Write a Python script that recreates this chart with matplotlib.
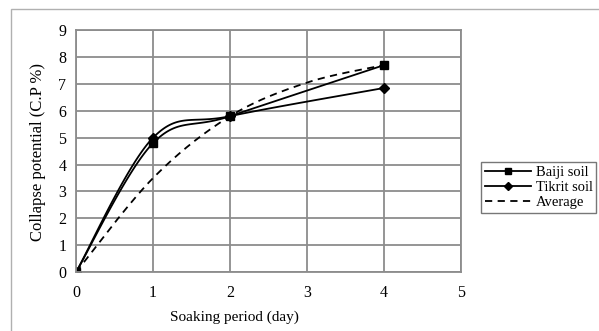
import numpy as np
import matplotlib.pyplot as plt
from matplotlib.patches import Rectangle

plt.rcParams['font.family'] = ['Liberation Serif', 'DejaVu Serif']

# data
days = [0, 1, 2, 4]
baiji = [0, 4.8, 5.8, 7.7]
tikrit = [0, 5.0, 5.8, 6.85]
avg_days = [0, 1, 2, 3, 4]
average = [0, 3.5, 5.8, 7.05, 7.7]

x_ticks = [0, 1, 2, 3, 4, 5]
y_ticks = [0, 1, 2, 3, 4, 5, 6, 7, 8, 9]


def smooth(xs, ys, n=40):
    # spreadsheet style smoothing: bezier segments with catmull-rom handles
    p = np.column_stack([xs, ys]).astype(float)
    out = []
    for i in range(len(p) - 1):
        p0 = p[i - 1] if i > 0 else p[i]
        p1 = p[i]
        p2 = p[i + 1]
        p3 = p[i + 2] if i + 2 < len(p) else p[i + 1]
        c1 = p1 + (p2 - p0) / 6
        c2 = p2 - (p3 - p1) / 6
        t = np.linspace(0, 1, n)[:, None]
        seg = ((1 - t) ** 3) * p1 + 3 * ((1 - t) ** 2) * t * c1 + 3 * (1 - t) * t ** 2 * c2 + t ** 3 * p2
        out.append(seg if i == 0 else seg[1:])
    out = np.vstack(out)
    return out[:, 0], out[:, 1]


fig = plt.figure(figsize=(5.99, 3.31), dpi=100)
ax = fig.add_axes([0.127, 0.178, 0.643, 0.731])

# outer chart frame (cut off on the right and bottom)
fig.patches.append(Rectangle((11 / 599, -0.1), 1.0, (331 - 9) / 331 + 0.1,
                             transform=fig.transFigure, fill=False,
                             edgecolor='#b0b0b0', linewidth=1.0))

grid_col = '#8c8c8c'
ax.set_xlim(0, 5)
ax.set_ylim(0, 9)
ax.set_xticks(x_ticks)
ax.set_yticks(y_ticks)
ax.grid(True, color=grid_col, linewidth=1.3)
ax.set_axisbelow(True)
for s in ax.spines.values():
    s.set_color(grid_col)
    s.set_linewidth(1.3)
ax.tick_params(length=0, labelsize=11.5)
ax.tick_params(axis='x', pad=9)
ax.tick_params(axis='y', pad=7)

bx, by = smooth(days, baiji)
ax.plot(bx, by, color='black', linewidth=1.3)
ax.plot(days, baiji, linestyle='none', marker='s', markersize=6, color='black')
tx, ty = smooth(days, tikrit)
ax.plot(tx, ty, color='black', linewidth=1.3)
ax.plot(days, tikrit, linestyle='none', marker='D', markersize=5.5, color='black')
axx, ayy = smooth(avg_days, average)
ax.plot(axx, ayy, color='black', linewidth=1.3, linestyle=(0, (4, 3)))

# legend proxies
ax.plot([], [], color='black', linewidth=1.3, marker='s', markersize=5, label='Baiji soil')
ax.plot([], [], color='black', linewidth=1.3, marker='D', markersize=4.5, label='Tikrit soil')
ax.plot([], [], color='black', linewidth=1.3, linestyle=(0, (4, 3)), label='Average')
leg = ax.legend(loc='center left', bbox_to_anchor=(481 / 599, 1 - 187.5 / 331),
                bbox_transform=fig.transFigure, fontsize=10.5, frameon=True,
                fancybox=False, edgecolor='#555555', borderpad=0.25,
                labelspacing=0.12, handlelength=3.2, handletextpad=0.3,
                borderaxespad=0)
leg.get_frame().set_linewidth(1.0)

fig.text(234 / 599, 1 - 317 / 331, 'Soaking period (day)', fontsize=11,
         ha='center', va='center')
fig.text(38 / 599, 1 - 152 / 331, 'Collapse potential (C.P %)', fontsize=12,
         rotation=90, ha='center', va='center')

fig.savefig('out.png', dpi=100)
